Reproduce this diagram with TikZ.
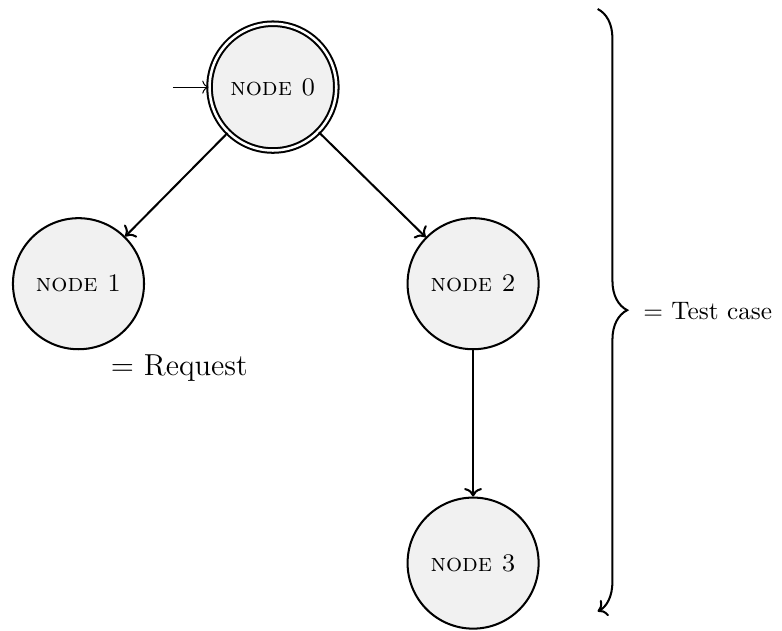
\documentclass[tikz,border=0pt]{standalone}
\usetikzlibrary{arrows.meta,decorations.pathreplacing}
\definecolor{statefill}{RGB}{241,241,241}
\begin{document}
\begin{tikzpicture}[
  state/.style={circle, draw=black, thick, fill=statefill, minimum size=1.82cm, inner sep=0pt, font=\scshape},
  startstate/.style={state, double, double distance=1pt, minimum size=1.76cm},
  edge/.style={->, thick},
  testbrace/.style={decorate, decoration={brace, amplitude=0.41cm}, thick, ->}
]
\useasboundingbox (0,0) rectangle (10.86,-8.75);

\def\xl{1.09}
\def\xm{3.79}
\def\xr{6.57}
\def\ytop{-1.21}
\def\ymid{-3.94}
\def\ylow{-7.82}

% Tree of nodes.
\node[startstate] (node0) at (\xm,\ytop) {node 0};
\node[state] (node1) at (\xl,\ymid) {node 1};
\node[state] (node2) at (\xr,\ymid) {node 2};
\node[state] (node3) at (\xr,\ylow) {node 3};

\coordinate (entry) at (2.40,\ytop);
\draw[->, thin] (entry) -- (node0);

\draw[edge] (node0) -- (node1);
\draw[edge] (node0) -- (node2);
\draw[edge] (node2) -- (node3);

% Legend.
\node[font=\large] (request) at (2.49,-5.11) {$=$ Request};

\coordinate (bracetop) at (8.30,-0.125);
\coordinate (bracebot) at (8.30,-8.49);
\draw[testbrace] (bracetop) -- (bracebot);
\node[anchor=west] (testcase) at (8.81,-4.32) {$=$ Test case};

\end{tikzpicture}
\end{document}
